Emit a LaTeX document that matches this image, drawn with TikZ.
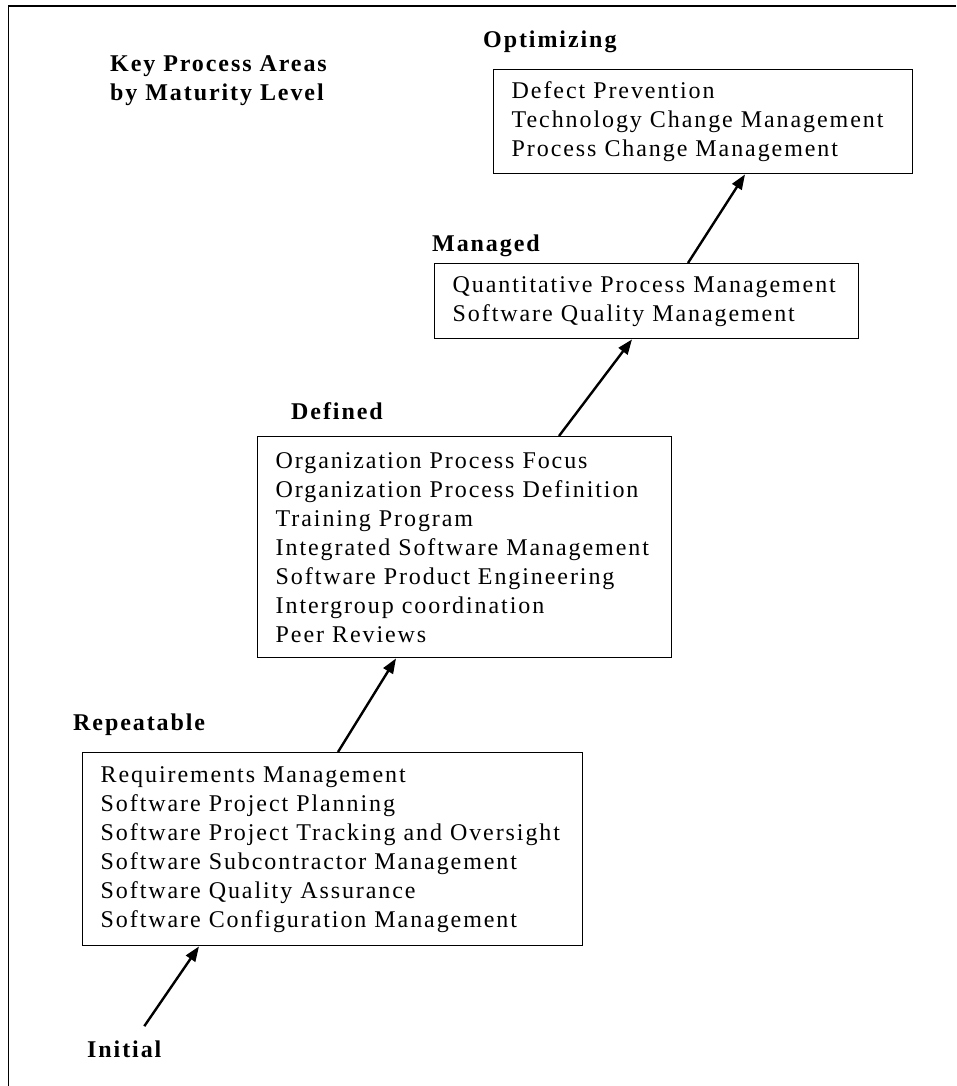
\documentclass[tikz,border=0pt]{standalone}
\usepackage{fontspec}
\setmainfont{Liberation Serif}[LetterSpace=8]
\usetikzlibrary{arrows.meta, positioning}

\begin{document}
\begin{tikzpicture}[
  x=1pt, y=1pt,
  font=\fontsize{24}{29}\selectfont,
  kpa/.style={draw, line width=1.4pt, align=left, anchor=north west,
              inner xsep=18pt, inner ysep=0pt},
  lvl/.style={font=\fontsize{24}{29}\selectfont\bfseries, anchor=base west,
              inner sep=0pt, align=left},
  arr/.style={-{Triangle[length=15pt, width=11pt]}, line width=2.4pt},
  frame/.style={line width=1.4pt}
]
\useasboundingbox (0,0) rectangle (956,-1086);
\draw[frame] (956,-6) -- (8.5,-6) -- (8.5,-1086);

% TITLE
\node[lvl] (title) at (110,-101) {Key Process Areas\\by Maturity Level};

% LEVEL 5
\node[lvl] (l5) at (483,-48) {Optimizing};
\node[kpa, text width=383pt, minimum height=104pt] (opt) at (493,-69)
  {Defect Prevention\\
   Technology Change Management\\
   Process Change Management};

% LEVEL 4
\node[lvl] (l4) at (432,-251) {Managed};
\node[kpa, text width=388pt, minimum height=75pt] (man) at (434,-263)
  {Quantitative Process Management\\
   Software Quality Management};

% LEVEL 3
\node[lvl] (l3) at (291,-419) {Defined};
\node[kpa, text width=378pt, minimum height=221pt] (def) at (257,-436)
  {Organization Process Focus\\
   Organization Process Definition\\
   Training Program\\
   Integrated Software Management\\
   Software Product Engineering\\
   Intergroup coordination\\
   Peer Reviews};

% LEVEL 2
\node[lvl] (l2) at (73,-730) {Repeatable};
\node[kpa, text width=464pt, minimum height=193pt] (rep) at (82,-752)
  {Requirements Management\\
   Software Project Planning\\
   Software Project Tracking and Oversight\\
   Software Subcontractor Management\\
   Software Quality Assurance\\
   Software Configuration Management};

% LEVEL 1
\node[lvl] (l1) at (87,-1057) {Initial};

% ARROWS
\draw[arr] ([shift={(20pt,14pt)}]l1.north) -- ([xshift=117pt]rep.south west);
\draw[arr] ([xshift=256pt]rep.north west) -- ([xshift=139pt]def.south west);
\draw[arr] ([xshift=302pt]def.north west) -- ([xshift=198pt]man.south west);
\draw[arr] ([xshift=254pt]man.north west) -- ([xshift=252pt]opt.south west);

\end{tikzpicture}
\end{document}
